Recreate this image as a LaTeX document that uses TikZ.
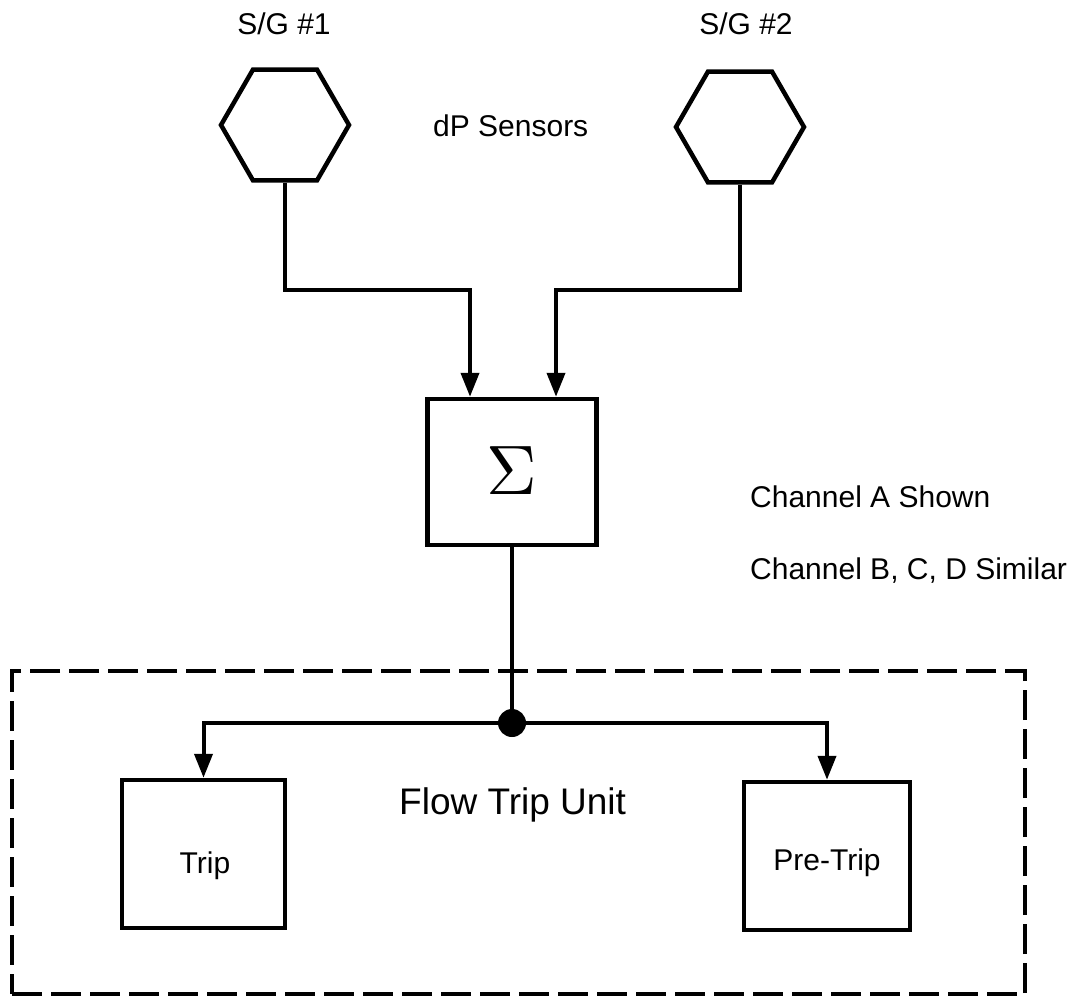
\documentclass[tikz,border=0pt]{standalone}
\usepackage{fontspec}
\setmainfont{Liberation Sans}
\usetikzlibrary{arrows.meta,shapes.geometric}
\begin{document}
\begin{tikzpicture}[x=1pt,y=-1pt,
  lbl/.style={font=\fontsize{30}{36}\selectfont, inner sep=0pt},
  biglbl/.style={font=\fontsize{37}{44}\selectfont, inner sep=0pt},
  hexa/.style={draw, line width=4.5pt, regular polygon, regular polygon sides=6, minimum size=128pt, inner sep=0pt},
  blk/.style={draw, line width=4.5pt, rectangle, inner sep=0pt},
  dashbox/.style={draw, line width=4pt, rectangle, inner sep=0pt, dash pattern=on 30pt off 9pt},
  conn/.style={line width=4pt},
  arr/.style={line width=4pt, -{Triangle[width=18pt,length=24pt]}},
  ]
\useasboundingbox (0,0) rectangle (1081,998);
% container
\node[dashbox, minimum width=1013pt, minimum height=323pt] (unit) at (518.5,832.5) {};
% labels
\node[lbl, anchor=base] (sg1) at (284,35) {S/G \#1};
\node[lbl, anchor=base] (sg2) at (746,35) {S/G \#2};
\node[lbl, anchor=base west] (dps) at (433,136) {dP Sensors};
\node[lbl, anchor=base west] (cha) at (750,507) {Channel A Shown};
\node[lbl, anchor=base west] (chb) at (750,579) {Channel B, C, D Similar};
\node[biglbl, anchor=base west] (ftu) at (399,814) {Flow Trip Unit};
% sensors
\node[hexa] (hex1) at (285,125) {};
\node[hexa] (hex2) at (740,127) {};
% summer
\node[blk, minimum width=169pt, minimum height=146pt] (sig) at (512,472) {};
\node[inner sep=0pt] (sigtxt) at (512,471) {\scalebox{7}{$\Sigma$}};
% trip units
\node[blk, minimum width=163pt, minimum height=148pt] (trip) at (203.5,854) {};
\node[lbl, anchor=base] (triptxt) at (205,873) {Trip};
\node[blk, minimum width=166pt, minimum height=148pt] (pre) at (827,856) {};
\node[lbl, anchor=base] (pretxt) at (827,870) {Pre-Trip};
% junction
\node[circle, fill, inner sep=0pt, minimum size=28pt] (dot) at (512,723) {};
% connectors
\coordinate (k1) at (470,290);
\coordinate (k2) at (556,290);
\draw[arr] (hex1.south) |- (k1) -- (k1 |- sig.north);
\draw[arr] (hex2.south) |- (k2) -- (k2 |- sig.north);
\draw[conn] (sig.south) -- (dot.center);
\draw[arr] (dot) -| (trip.north);
\draw[arr] (dot) -| (pre.north);
\end{tikzpicture}
\end{document}
